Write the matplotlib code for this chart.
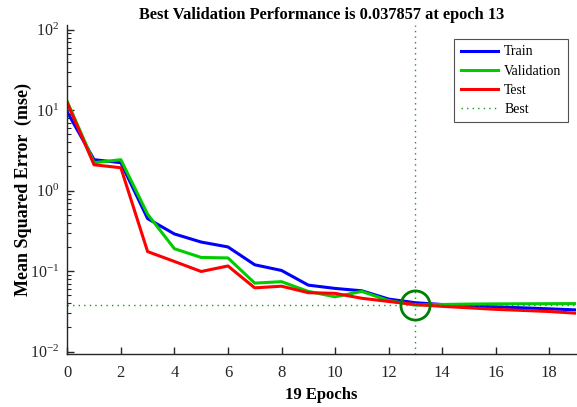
import matplotlib
matplotlib.use("Agg")
import matplotlib.pyplot as plt
from matplotlib.ticker import LogLocator, LogFormatterSciNotation, MultipleLocator, NullFormatter
import numpy as np

epochs = list(range(20))
train = [9.5, 2.43, 2.23, 0.45, 0.29, 0.23, 0.20, 0.12, 0.102, 0.067, 0.061, 0.057, 0.045, 0.0405, 0.0385, 0.037, 0.036, 0.035, 0.034, 0.033]
validation = [12.8, 2.23, 2.43, 0.51, 0.19, 0.148, 0.146, 0.071, 0.074, 0.056, 0.048, 0.056, 0.043, 0.037857, 0.0385, 0.039, 0.0392, 0.0393, 0.0394, 0.0395]
test = [12.3, 2.1, 1.93, 0.175, 0.132, 0.099, 0.116, 0.062, 0.065, 0.054, 0.053, 0.046, 0.042, 0.0385, 0.0365, 0.035, 0.0335, 0.0325, 0.0315, 0.030]
best_epoch = 13
best_perf = 0.037857

plt.rcParams['font.family'] = ['Liberation Serif', 'DejaVu Serif']
plt.rcParams['mathtext.fontset'] = 'custom'
plt.rcParams['mathtext.rm'] = 'Liberation Serif'
plt.rcParams['mathtext.it'] = 'Liberation Serif:italic'
plt.rcParams['mathtext.bf'] = 'Liberation Serif:bold'

fig = plt.figure(figsize=(5.77, 4.07), dpi=100)
ax = fig.add_axes([0.1166, 0.1302, 0.8818, 0.8084])

ax.semilogy(epochs, train, color=(0, 0, 1), lw=2.2, label='Train')
ax.semilogy(epochs, validation, color=(0, 0.8, 0), lw=2.2, label='Validation')
ax.semilogy(epochs, test, color=(1, 0, 0), lw=2.2, label='Test')
ax.axhline(best_perf, color=(0.1, 0.6, 0.1), ls=(0, (1, 3)), lw=1.0, label='Best')
ax.axvline(best_epoch, color=(0.1, 0.6, 0.1), ls=(0, (1, 3)), lw=1.0)
ax.plot([best_epoch], [best_perf], 'o', ms=21, mfc='none', mec=(0, 0.5, 0), mew=2.0)

ax.set_xlim(0, 19)
ax.set_ylim(10 ** -2.03, 10 ** 2.06)
ax.xaxis.set_major_locator(MultipleLocator(2))
ax.yaxis.set_major_locator(LogLocator(base=10, numticks=10))
ax.yaxis.set_minor_locator(LogLocator(base=10, subs=np.arange(2, 10), numticks=10))
ax.yaxis.set_major_formatter(LogFormatterSciNotation())
ax.yaxis.set_minor_formatter(NullFormatter())

for s in ['top', 'right']:
    ax.spines[s].set_visible(False)
for s in ['left', 'bottom']:
    ax.spines[s].set_linewidth(1.0)
    ax.spines[s].set_color('#262626')
ax.tick_params(which='major', direction='in', length=5, width=1.0, labelsize=11.5, colors='#262626', pad=6)
ax.tick_params(which='minor', direction='in', length=3, width=0.8, colors='#262626')
ax.tick_params(axis='x', labelsize=12, pad=8)
for lab in ax.get_xticklabels() + ax.get_yticklabels():
    lab.set_color('#262626')

ax.set_title('Best Validation Performance is 0.037857 at epoch 13', fontsize=11.8, fontweight='bold', pad=4)
ax.set_xlabel('19 Epochs', fontsize=12, fontweight='bold', labelpad=4)
ax.set_ylabel('Mean Squared Error  (mse)', fontsize=13, fontweight='bold', labelpad=-2)

leg = ax.legend(loc='upper right', bbox_to_anchor=(0.984, 0.957), fontsize=10, frameon=True, fancybox=False,
                edgecolor='#262626', handlelength=2.7, handletextpad=0.45, borderpad=0.45, labelspacing=0.45,
                borderaxespad=0)
leg.get_frame().set_linewidth(0.8)

fig.savefig('out.png', dpi=100)
